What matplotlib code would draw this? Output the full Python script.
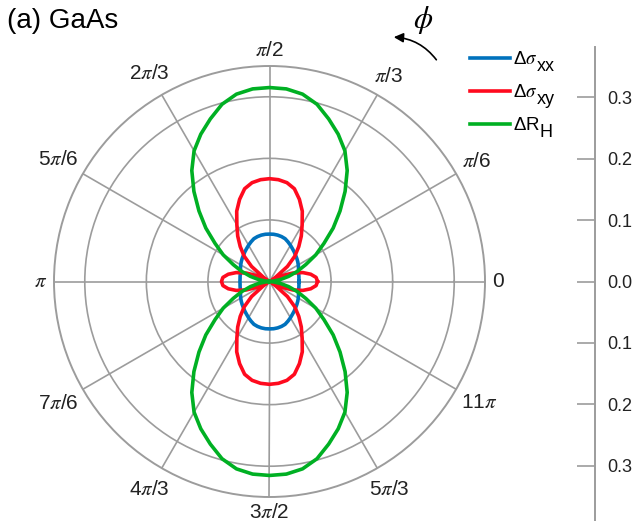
import numpy as np
import matplotlib
matplotlib.use('Agg')
import matplotlib.pyplot as plt

plt.rcParams['font.family'] = ['Liberation Sans', 'DejaVu Sans']
plt.rcParams['mathtext.fontset'] = 'custom'
plt.rcParams['mathtext.rm'] = 'Liberation Sans'
plt.rcParams['mathtext.it'] = 'STIXGeneral:italic'

# |value| every 5 degrees over the first quadrant (0 .. pi/2);
# the curves are symmetric about both axes
quad_deg = np.arange(0, 91, 5)
sxx_quad = [0.048, 0.048, 0.0485, 0.049, 0.050, 0.052, 0.054, 0.056, 0.058, 0.060,
            0.0625, 0.065, 0.068, 0.071, 0.074, 0.0755, 0.0765, 0.077, 0.077]
sxy_quad = [0.078, 0.076, 0.068, 0.056, 0.040, 0.022, 0.004, 0.012, 0.038, 0.058,
            0.074, 0.090, 0.106, 0.126, 0.142, 0.156, 0.163, 0.166, 0.167]
rh_quad = [0.0, 0.006, 0.018, 0.032, 0.048, 0.065, 0.087, 0.108, 0.135, 0.162,
           0.191, 0.220, 0.245, 0.264, 0.281, 0.298, 0.309, 0.314, 0.315]

# legend names: main symbol + (large) subscript
series_names = [r'$\Delta\sigma$', r'$\Delta\sigma$', r'$\Delta$R']
series_subs = ['xx', 'xy', 'H']
series_colors = ['#0072bd', '#ff0a1e', '#00b023']

theta_ticks_deg = np.arange(0, 360, 30)
theta_tick_labels = ['0', r'$\pi$/6', r'$\pi$/3', r'$\pi$/2', r'2$\pi$/3', r'5$\pi$/6',
                     r'$\pi$', r'7$\pi$/6', r'4$\pi$/3', r'3$\pi$/2', r'5$\pi$/3', r'11$\pi$']
r_rings = [0.1, 0.2, 0.3]
r_max = 0.35

scale_ticks = [0.3, 0.2, 0.1, 0.0, -0.1, -0.2, -0.3]
scale_labels = ['0.3', '0.2', '0.1', '0.0', '0.1', '0.2', '0.3']

grid_col = '#9c9c9c'


def full_turn(q):
    q = np.asarray(q)
    return np.concatenate([q, q[-2::-1], q[1:], q[-2::-1]])


theta = np.deg2rad(np.arange(0, 361, 5))

fig = plt.figure(figsize=(6.4, 5.21), dpi=100)
W, H = 640.0, 521.0
cx, cy, rad = 269.5, 281.5, 215.5
ax = fig.add_axes([(cx - rad) / W, (H - cy - rad) / H, 2 * rad / W, 2 * rad / H],
                  projection='polar')

handles = []
for q, lab, col in zip([sxx_quad, sxy_quad, rh_quad], series_names, series_colors):
    ln, = ax.plot(theta, full_turn(q), color=col, lw=2.6, label=lab, zorder=3)
    handles.append(ln)

ax.set_ylim(0, r_max)
ax.set_rticks(r_rings)
ax.set_yticklabels([])
ax.set_thetagrids(theta_ticks_deg, [''] * len(theta_ticks_deg))
ax.grid(True, color=grid_col, lw=1.2)
ax.spines['polar'].set_color(grid_col)
ax.spines['polar'].set_linewidth(1.4)

# angle labels: box edge kept a fixed gap outside the rim
angle_texts = []
for deg, lab in zip(theta_ticks_deg, theta_tick_labels):
    t = ax.annotate(lab, xy=(np.deg2rad(deg), r_max), xytext=(0, 0),
                    textcoords='offset pixels', ha='center', va='center',
                    fontsize=15, color='#222222', annotation_clip=False)
    angle_texts.append((deg, t))

leg = fig.legend(handles=handles, loc='upper left', bbox_to_anchor=(470 / W, 1 - 51 / H),
                 frameon=False, fontsize=13.5, handlelength=2.15, handletextpad=0.15,
                 labelspacing=0.85, borderaxespad=0, borderpad=0)

# side scale for the radial values
top_px = 47.0
y_top = (cy - top_px) / 614.0
y_bot = -(H - cy) / 614.0
sc = fig.add_axes([595 / W, 0, 0.5 / W, (H - top_px) / H])
sc.set_ylim(y_bot, y_top)
sc.set_xticks([])
sc.set_yticks(scale_ticks)
sc.set_yticklabels(scale_labels, fontsize=13, color='#222222')
for s in ['top', 'bottom', 'right']:
    sc.spines[s].set_visible(False)
sc.spines['left'].set_color(grid_col)
sc.spines['left'].set_linewidth(1.4)
sc.tick_params(axis='y', left=True, right=False, labelleft=False, labelright=True,
               direction='out', length=13, width=1.2, color=grid_col, pad=-4.5)
sc.patch.set_visible(False)

fig.text(7 / W, 1 - 28 / H, '(a) GaAs', fontsize=20, va='baseline', ha='left')
fig.text(423 / W, 1 - 20 / H, r'$\phi$', fontsize=22, ha='center', va='center')
fig.patches.append(matplotlib.patches.FancyArrowPatch(
    (438 / W, 1 - 62 / H), (391 / W, 1 - 37 / H), transform=fig.transFigure,
    connectionstyle='arc3,rad=0.25', arrowstyle='-|>', mutation_scale=14,
    color='black', lw=1.2))

fig.canvas.draw()
rend = fig.canvas.get_renderer()

gap = 7.0
for deg, t in angle_texts:
    bb = t.get_window_extent(rend)
    hw, hh = bb.width / 2, min(bb.height, 17) / 2
    c, s = np.cos(np.deg2rad(deg)), np.sin(np.deg2rad(deg))
    d = gap + abs(c) * hw + abs(s) * hh
    t.xyann = (d * c, d * s)

# subscripts next to each legend entry
for t, sub in zip(leg.get_texts(), series_subs):
    bb = t.get_window_extent(rend)
    fig.text((bb.x1 - 1) / W, (bb.y0 - 3) / H, sub, fontsize=13, va='baseline', ha='left')

fig.savefig('out.png', dpi=100)
